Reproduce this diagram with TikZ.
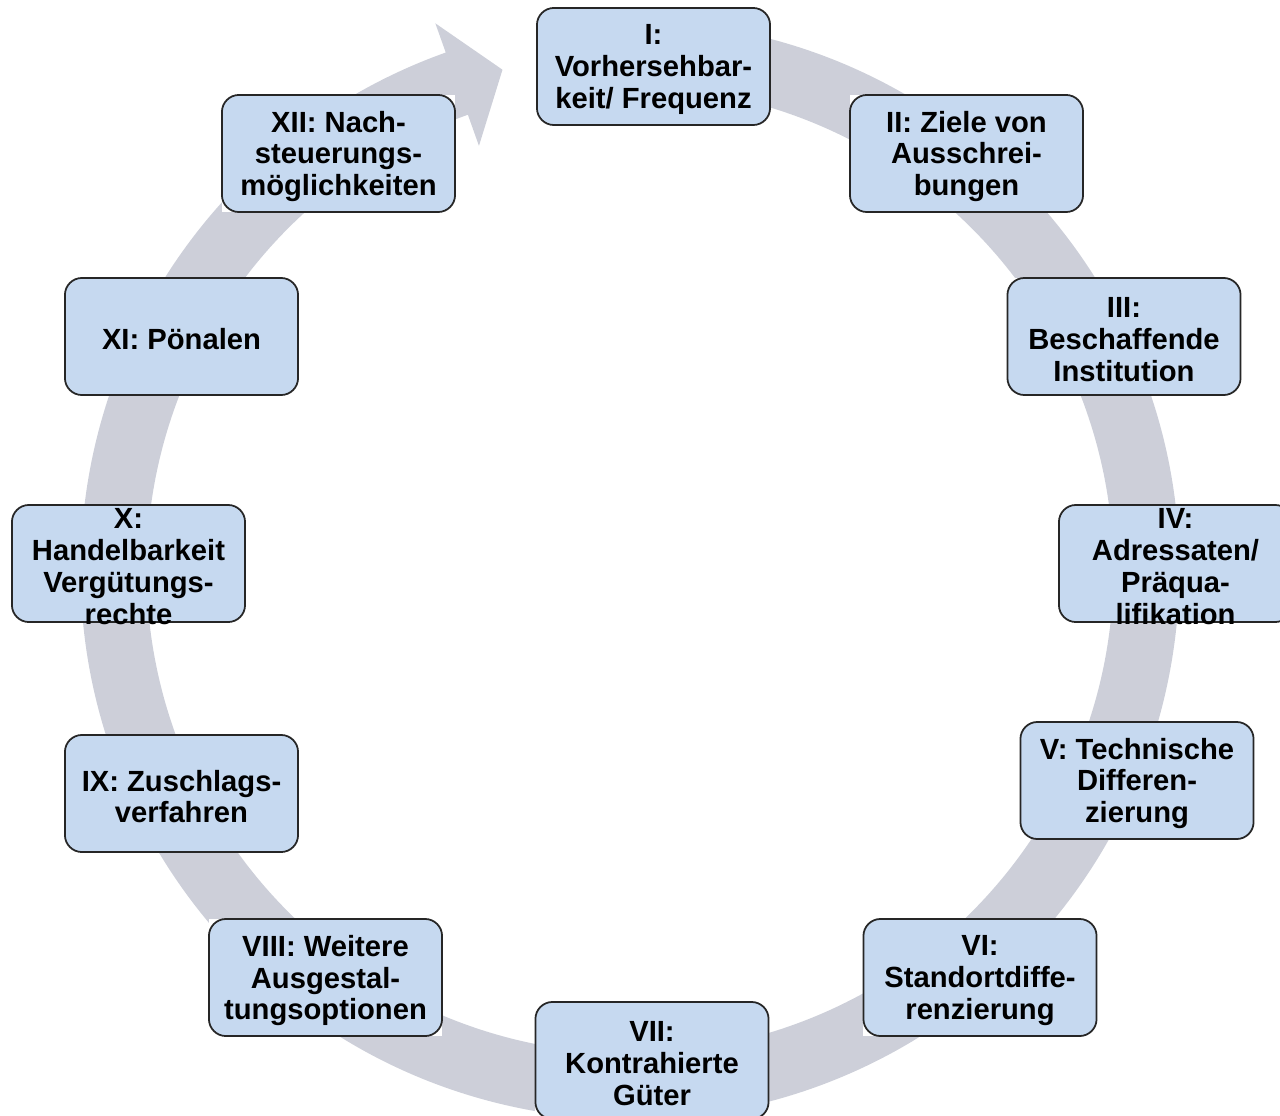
\documentclass[tikz,border=0pt]{standalone}
\usepackage{fontspec}
\setmainfont{Liberation Sans}
\definecolor{ringgrau}{RGB}{205,207,217}
\definecolor{kastenblau}{RGB}{198,217,240}

\begin{document}
\begin{tikzpicture}[x=0.01cm, y=0.01cm,
    grund/.style={fill=white, minimum width=2.33cm, minimum height=1.17cm, inner sep=0pt},
    kasten/.style={draw=black!85, line width=0.5pt, fill=kastenblau, rounded corners=0.17cm,
                   minimum width=2.33cm, minimum height=1.17cm, inner sep=0pt},
    beschriftung/.style={align=center, inner sep=0pt, yshift=-0.03cm,
                         font=\fontsize{8.3}{9.05}\selectfont\bfseries}]
    \useasboundingbox (-630,-545) rectangle (650,570);

    % Ring mit Pfeilspitze
    \fill[ringgrau] (80:5.49cm) arc[start angle=80, end angle=-250.4, radius=5.49cm]
        -- (-250.4:5.80cm) -- (-255.7:5.16cm) -- (-250.4:4.50cm) -- (-250.4:4.83cm)
        arc[start angle=-250.4, end angle=80, radius=4.83cm] -- cycle;

    % Kästen
    \foreach \pos/\txt [count=\i] in {
        (23.5,503.5)/{I:\\Vorhersehbar-\\keit/ Frequenz},
        (336.5,416.5)/{II: Ziele von\\Ausschrei-\\bungen},
        (494,233.5)/{III:\\Beschaffende\\Institution},
        (545.5,6.5)/{IV:\\Adressaten/\\Präqua-\\lifikation},
        (507,-210.5)/{V: Technische\\Differen-\\zierung},
        (350,-407.5)/{VI:\\Standortdiffe-\\renzierung},
        (22,-490.5)/{VII:\\Kontrahierte\\Güter},
        (-304.5,-407.5)/{VIII: Weitere\\Ausgestal-\\tungsoptionen},
        (-448.5,-223.5)/{IX: Zuschlags-\\verfahren},
        (-501.5,6.5)/{X:\\Handelbarkeit\\Vergütungs-\\rechte},
        (-448.5,233.5)/{XI: Pönalen},
        (-291.5,416.5)/{XII: Nach-\\steuerungs-\\möglichkeiten}} {
        \node[grund] (g\i) at \pos {};
        \node[kasten] (k\i) at (g\i) {};
        \node[beschriftung] (t\i) at (k\i) {\txt};
    }
\end{tikzpicture}
\end{document}
